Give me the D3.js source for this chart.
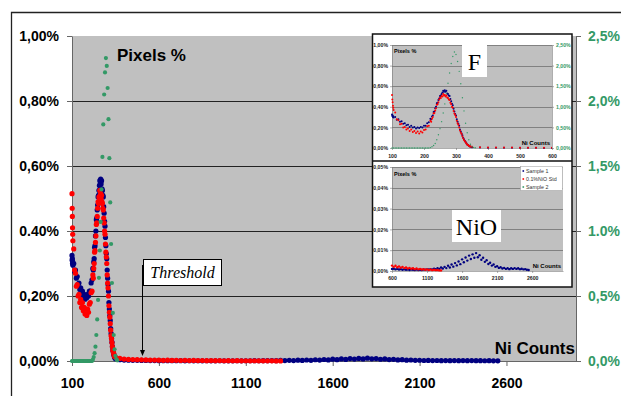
<!DOCTYPE html>
<html>
<head>
<meta charset="utf-8">
<script src="https://cdnjs.cloudflare.com/ajax/libs/d3/7.8.5/d3.min.js"></script>
<style>
  html, body { margin: 0; padding: 0; background: #fff; }
  svg { display: block; }
</style>
</head>
<body>
<svg id="chart" width="621" height="396"></svg>
<script>
// ─── Data (Ni counts vs pixel %) ─────────────────────────────────────

// peak region, Sample 1 (blue) and 0.1%NiO Std (red), left axis %
const peakCounts = [
  100, 101, 102, 103, 104, 105, 110, 115, 120, 125, 130, 135, 140, 145, 150,
  155, 160, 165, 170, 175, 180, 185, 190, 195, 200, 205, 210, 215, 220,
  222.5, 225, 227.5, 230, 232.5, 235, 237.5, 240, 242.5, 245,
  247.5, 250, 252.5, 255, 257.5, 260, 262.5, 265, 267.5, 270,
  272.5, 275, 277.5, 280, 282.5, 285, 287.5, 290, 292.5, 295,
  297.5, 300, 302.5, 305, 307.5, 310, 312.5, 315, 317.5, 320,
  322.5, 325, 327.5, 330, 332.5, 335, 337.5, 340, 342.5, 345
];
const sample1Peak = [
  0.325, 0.31, 0.315, 0.30, 0.305, 0.295, 0.30, 0.275, 0.28, 0.255, 0.26, 0.235, 0.24, 0.22, 0.225,
  0.205, 0.215, 0.20, 0.205, 0.19, 0.20, 0.195, 0.205, 0.20, 0.215, 0.215, 0.24, 0.25, 0.285,
  0.28, 0.305, 0.315, 0.35, 0.355, 0.385, 0.40, 0.435, 0.44, 0.465,
  0.48, 0.505, 0.51, 0.525, 0.54, 0.555, 0.545, 0.56, 0.545, 0.555,
  0.53, 0.525, 0.51, 0.505, 0.475, 0.455, 0.43, 0.415, 0.38, 0.355,
  0.33, 0.315, 0.28, 0.255, 0.235, 0.215, 0.18, 0.16, 0.14, 0.125,
  0.10, 0.085, 0.07, 0.058, 0.045, 0.034, 0.028, 0.021, 0.016, 0.011
];
const stdPeak = [
  0.515, 0.47, 0.445, 0.41, 0.39, 0.37, 0.345, 0.28, 0.27, 0.23, 0.235, 0.20, 0.205, 0.18, 0.19,
  0.165, 0.18, 0.155, 0.165, 0.145, 0.16, 0.14, 0.16, 0.15, 0.175, 0.18, 0.21, 0.215, 0.265,
  0.255, 0.285, 0.30, 0.335, 0.34, 0.365, 0.385, 0.42, 0.425, 0.445,
  0.47, 0.49, 0.485, 0.505, 0.50, 0.525, 0.51, 0.515, 0.50, 0.51,
  0.49, 0.485, 0.47, 0.465, 0.44, 0.425, 0.40, 0.39, 0.36, 0.335,
  0.32, 0.30, 0.265, 0.24, 0.225, 0.20, 0.17, 0.15, 0.135, 0.115,
  0.095, 0.078, 0.068, 0.056, 0.044, 0.033, 0.029, 0.023, 0.018, 0.014
];

// Sample 2 (green), secondary axis %
const sample2Counts = [
  100, 105, 110, 115, 120, 125, 130, 135, 140, 145, 150, 155, 160, 165, 170,
  175, 180, 185, 190, 195, 200, 205, 210, 215, 220, 225, 230, 235, 240, 245,
  250, 255, 260, 265, 270, 275, 280, 285, 290, 295, 300, 305, 310, 315, 320,
  325, 330, 335, 340, 345, 350, 355, 360
];
const sample2Values = [
  0, 0, 0, 0, 0, 0, 0, 0, 0, 0, 0, 0, 0, 0, 0,
  0, 0, 0, 0, 0, 0, 0, 0, 0, 0.01, 0.03, 0.06, 0.11, 0.20, 0.32,
  0.47, 0.64, 0.85, 1.07, 1.32, 1.57, 1.82, 2.05, 2.22, 2.33, 2.27, 2.10, 1.86, 1.56, 1.22,
  0.90, 0.60, 0.37, 0.20, 0.09, 0.04, 0.015, 0.005
];

// long tail, left axis %
const tailCounts = [
  350, 375, 400, 425, 450, 475, 500, 525, 550, 575,
  600, 625, 650, 675, 700, 725, 750, 775, 800, 825,
  850, 875, 900, 925, 950, 975, 1000, 1025, 1050, 1075,
  1100, 1125, 1150, 1175, 1200, 1225, 1250, 1275, 1300, 1325,
  1350, 1375, 1400, 1425, 1450, 1475, 1500, 1525, 1550, 1575,
  1600, 1625, 1650, 1675, 1700, 1725, 1750, 1775, 1800, 1825,
  1850, 1875, 1900, 1925, 1950, 1975, 2000, 2025, 2050, 2075,
  2100, 2125, 2150, 2175, 2200, 2225, 2250, 2275, 2300, 2325,
  2350, 2375, 2400, 2425, 2450, 2475, 2500, 2525, 2550
];
const sample1Tail = [
  0.007, 0.004, 0.003, 0.0025, 0.002, 0.002, 0.0018, 0.0015, 0.0014, 0.0012,
  0.0010, 0.0011, 0.0008, 0.0010, 0.0007, 0.0009, 0.0006, 0.0008, 0.0006, 0.0007,
  0.0005, 0.0007, 0.0006, 0.0005, 0.0007, 0.0005, 0.0006, 0.0005, 0.0007, 0.0006,
  0.0008, 0.0007, 0.0009, 0.0008, 0.0011, 0.0009, 0.0014, 0.0010, 0.0017, 0.0012,
  0.0020, 0.0014, 0.0025, 0.0017, 0.0031, 0.0021, 0.0038, 0.0027, 0.0046, 0.0033,
  0.0056, 0.0042, 0.0065, 0.0050, 0.0074, 0.0058, 0.0080, 0.0064, 0.0086, 0.0066,
  0.0076, 0.0054, 0.0064, 0.0044, 0.0052, 0.0034, 0.0040, 0.0026, 0.0031, 0.0020,
  0.0023, 0.0015, 0.0018, 0.0012, 0.0015, 0.0010, 0.0013, 0.0009, 0.0013, 0.0010,
  0.0014, 0.0010, 0.0013, 0.0009, 0.0011, 0.0008, 0.0009, 0.0006, 0.0005
];
const stdTail = [
  0.012, 0.008, 0.006, 0.005, 0.0045, 0.004, 0.0035, 0.0032, 0.003, 0.0028,
  0.0026, 0.0020, 0.0025, 0.0018, 0.0022, 0.0016, 0.0020, 0.0014, 0.0017, 0.0012,
  0.0015, 0.0011, 0.0013, 0.0009, 0.0012, 0.0008, 0.0010, 0.0007, 0.0009, 0.0006,
  0.0008, 0.0005, 0.0007, 0.0004, 0.0006, 0.0004, 0.0005, 0.0003, 0.0003
];

// ─── Tick labels ─────────────────────────────────────────────────────

const mainXTicks = [100, 600, 1100, 1600, 2100, 2600];
const mainYTicks = [0, 0.2, 0.4, 0.6, 0.8, 1.0];
const mainYLabels = ["0,00%", "0,20%", "0.40%", "0,60%", "0,80%", "1,00%"];
const mainY2Ticks = [0, 0.5, 1.0, 1.5, 2.0, 2.5];
const mainY2Labels = ["0,0%", "0,5%", "1.0%", "1,5%", "2,0%", "2,5%"];

const fXTicks = [100, 200, 300, 400, 500, 600];
const fYLabels = ["0,00%", "0,20%", "0,40%", "0,60%", "0,80%", "1,00%"];
const fY2Labels = ["0,00%", "0,50%", "1,00%", "1,50%", "2,00%", "2,50%"];

const nioXTicks = [600, 1100, 1600, 2100, 2600];
const nioYTicks = [0, 0.01, 0.02, 0.03, 0.04, 0.05];
const nioYLabels = ["0,00%", "0,01%", "0,02%", "0,03%", "0,04%", "0,05%"];

const legendNames = ["Sample 1", "0.1%NiO Std", "Sample 2"];

// ─── Style ───────────────────────────────────────────────────────────

const FONT = "'Liberation Sans', Arial, Helvetica, sans-serif";
const SERIF = "'Liberation Serif', 'Times New Roman', serif";
const BLUE = "#000080";
const RED = "#ff0000";
const GREEN = "#339966";
const PLOT_BG = "#c0c0c0";

// ─── Series ──────────────────────────────────────────────────────────

const sample1 = peakCounts.map((c, i) => ({ c, v: sample1Peak[i] }))
  .concat(tailCounts.map((c, i) => ({ c, v: sample1Tail[i] })));
const std = peakCounts.map((c, i) => ({ c, v: stdPeak[i] }))
  .concat(stdTail.map((v, i) => ({ c: tailCounts[i], v })));
const sample2 = sample2Counts.map((c, i) => ({ c, v: sample2Values[i] }));

const series = [
  { name: legendNames[0], color: BLUE, points: sample1, secondary: false },
  { name: legendNames[1], color: RED, points: std, secondary: false },
  { name: legendNames[2], color: GREEN, points: sample2, secondary: true },
];

const svg = d3.select("#chart");

// ─── Panel drawing ───────────────────────────────────────────────────

function drawPanel(parent, p) {
  const x = d3.scaleLinear().domain(p.xDomain).range([p.left, p.right]);
  const y = d3.scaleLinear().domain(p.yDomain).range([p.bottom, p.top]);
  const y2 = p.y2Domain ? d3.scaleLinear().domain(p.y2Domain).range([p.bottom, p.top]) : y;

  const g = parent.append("g").attr("class", `panel-${p.id}`);

  g.append("rect")
    .attr("x", p.left).attr("y", p.top)
    .attr("width", p.right - p.left).attr("height", p.bottom - p.top)
    .attr("fill", PLOT_BG);

  g.append("g")
    .selectAll("line")
    .data(p.grid)
    .join("line")
    .attr("x1", p.left).attr("x2", p.right)
    .attr("y1", (d) => Math.round(y(d)) + 0.5)
    .attr("y2", (d) => Math.round(y(d)) + 0.5)
    .attr("stroke", p.gridColor)
    .attr("stroke-width", p.gridWidth);

  const styleAxis = (ax, color) => {
    ax.select(".domain").attr("stroke", p.axisColor).attr("stroke-width", p.axisWidth);
    ax.selectAll(".tick line").attr("stroke", p.axisColor).attr("stroke-width", p.axisWidth);
    ax.selectAll(".tick text")
      .attr("font-family", FONT)
      .attr("font-size", p.font)
      .attr("font-weight", p.weight)
      .attr("fill", color);
  };

  const xAxis = g.append("g")
    .attr("transform", `translate(0,${p.bottom})`)
    .call(d3.axisBottom(x).tickValues(p.xTicks).tickFormat(d3.format("d"))
      .tickSize(p.tick).tickSizeOuter(0).tickPadding(p.xPad));
  styleAxis(xAxis, p.labelColor);

  const yAxis = g.append("g")
    .attr("transform", `translate(${p.left},0)`)
    .call(d3.axisLeft(y).tickValues(p.yTicks).tickFormat((d, i) => p.yLabels[i])
      .tickSize(p.tick).tickSizeOuter(0).tickPadding(p.yPad));
  styleAxis(yAxis, p.labelColor);

  if (p.y2Domain) {
    const y2Axis = g.append("g")
      .attr("transform", `translate(${p.right},0)`)
      .call(d3.axisRight(y2).tickValues(p.y2Ticks).tickFormat((d, i) => p.y2Labels[i])
        .tickSize(p.tick).tickSizeOuter(0).tickPadding(p.y2Pad));
    styleAxis(y2Axis, GREEN);
  }

  // Clipped marker layer
  const clipId = `clip-${p.id}`;
  g.append("clipPath").attr("id", clipId)
    .append("rect")
    .attr("x", p.left - 3).attr("y", p.top)
    .attr("width", p.right - p.left + 3).attr("height", p.bottom - p.top + 3);

  const dots = g.append("g").attr("clip-path", `url(#${clipId})`);
  series.forEach((s) => {
    const ys = s.secondary ? y2 : y;
    dots.append("g")
      .selectAll("circle")
      .data(s.points.filter((d) => d.c >= p.xDomain[0] && d.c <= p.xDomain[1]))
      .join("circle")
      .attr("cx", (d) => x(d.c))
      .attr("cy", (d) => ys(d.v))
      .attr("r", s.secondary ? p.r2 : p.r)
      .attr("fill", s.color);
  });

  return { x, y, y2 };
}

// ─── Outer frame ─────────────────────────────────────────────────────

svg.append("path")
  .attr("d", "M11.5,396 V12.5 H621")
  .attr("fill", "none")
  .attr("stroke", "#222")
  .attr("stroke-width", 1.3);

// ─── Main chart ──────────────────────────────────────────────────────

const main = drawPanel(svg, {
  id: "main", left: 72, right: 576, top: 36, bottom: 361,
  xDomain: [100, 3000], yDomain: [0, 1], y2Domain: [0, 2.5],
  xTicks: mainXTicks, yTicks: mainYTicks, yLabels: mainYLabels,
  y2Ticks: mainY2Ticks, y2Labels: mainY2Labels,
  grid: [0.2, 0.4, 0.6, 0.8], gridColor: "#222", gridWidth: 1,
  axisColor: "#666", axisWidth: 1, labelColor: "#000",
  font: 14, weight: "bold", tick: 5, xPad: 12, yPad: 8, y2Pad: 7,
  r: 2.6, r2: 2.1,
});

svg.append("text")
  .attr("x", 117).attr("y", 61)
  .attr("font-family", FONT).attr("font-size", 17).attr("font-weight", "bold")
  .text("Pixels %");

svg.append("text")
  .attr("x", 575).attr("y", 354)
  .attr("text-anchor", "end")
  .attr("font-family", FONT).attr("font-size", 17).attr("font-weight", "bold")
  .text("Ni Counts");

// ─── Threshold marker ────────────────────────────────────────────────

const thresholdX = Math.round(main.x(500)) + 0.5;
svg.append("line")
  .attr("x1", thresholdX).attr("x2", thresholdX)
  .attr("y1", 265).attr("y2", 351)
  .attr("stroke", "#000").attr("stroke-width", 1);
svg.append("path")
  .attr("d", `M${thresholdX - 2.5},350 L${thresholdX + 2.5},350 L${thresholdX},356 Z`)
  .attr("fill", "#000");

svg.append("rect")
  .attr("x", 143.5).attr("y", 259.5).attr("width", 78).attr("height", 26)
  .attr("fill", "#fff").attr("stroke", "#000").attr("stroke-width", 1);
svg.append("text")
  .attr("x", 182.5).attr("y", 277.5)
  .attr("text-anchor", "middle")
  .attr("font-family", SERIF).attr("font-size", 16).attr("font-style", "italic")
  .text("Threshold");

// ─── Inset frame ─────────────────────────────────────────────────────

svg.append("rect")
  .attr("x", 372.5).attr("y", 34).attr("width", 199.5).attr("height", 253)
  .attr("fill", "#fff").attr("stroke", "#111").attr("stroke-width", 1.5);
svg.append("line")
  .attr("x1", 372.5).attr("x2", 572).attr("y1", 161).attr("y2", 161)
  .attr("stroke", "#111").attr("stroke-width", 1.5);

// ─── Inset F ─────────────────────────────────────────────────────────

drawPanel(svg, {
  id: "f", left: 392, right: 552, top: 45, bottom: 148,
  xDomain: [100, 600], yDomain: [0, 1], y2Domain: [0, 2.5],
  xTicks: fXTicks, yTicks: mainYTicks, yLabels: fYLabels,
  y2Ticks: mainY2Ticks, y2Labels: fY2Labels,
  grid: [0.2, 0.4, 0.6, 0.8, 1.0], gridColor: "#555", gridWidth: 0.6,
  axisColor: "#777", axisWidth: 0.6, labelColor: "#222",
  font: 5.2, weight: "bold", tick: 2, xPad: 4, yPad: 2, y2Pad: 2,
  r: 1.0, r2: 0.7,
});

svg.append("text")
  .attr("x", 394).attr("y", 53)
  .attr("font-family", FONT).attr("font-size", 5.5).attr("font-weight", "bold")
  .text("Pixels %");
svg.append("text")
  .attr("x", 550).attr("y", 145)
  .attr("text-anchor", "end")
  .attr("font-family", FONT).attr("font-size", 6).attr("font-weight", "bold")
  .text("Ni Counts");

svg.append("rect")
  .attr("x", 462).attr("y", 45).attr("width", 25).attr("height", 32)
  .attr("fill", "#fff");
svg.append("text")
  .attr("x", 474.5).attr("y", 70)
  .attr("text-anchor", "middle")
  .attr("font-family", SERIF).attr("font-size", 24)
  .text("F");

// ─── Inset NiO ───────────────────────────────────────────────────────

drawPanel(svg, {
  id: "nio", left: 392, right: 563, top: 167, bottom: 271,
  xDomain: [600, 3040], yDomain: [0, 0.05],
  xTicks: nioXTicks, yTicks: nioYTicks, yLabels: nioYLabels,
  grid: [0.01, 0.02, 0.03, 0.04, 0.05], gridColor: "#555", gridWidth: 0.6,
  axisColor: "#777", axisWidth: 0.6, labelColor: "#222",
  font: 5.2, weight: "bold", tick: 2, xPad: 3, yPad: 2,
  r: 1.2, r2: 0.7,
});

svg.append("text")
  .attr("x", 394).attr("y", 176)
  .attr("font-family", FONT).attr("font-size", 5.5).attr("font-weight", "bold")
  .text("Pixels %");
svg.append("text")
  .attr("x", 561).attr("y", 268)
  .attr("text-anchor", "end")
  .attr("font-family", FONT).attr("font-size", 6).attr("font-weight", "bold")
  .text("Ni Counts");

svg.append("rect")
  .attr("x", 452).attr("y", 210).attr("width", 49).attr("height", 32)
  .attr("fill", "#fff");
svg.append("text")
  .attr("x", 476.5).attr("y", 234.5)
  .attr("text-anchor", "middle")
  .attr("font-family", SERIF).attr("font-size", 24)
  .text("NiO");

// ─── Legend ──────────────────────────────────────────────────────────

const legend = svg.append("g").attr("class", "legend");
legend.append("rect")
  .attr("x", 520.5).attr("y", 166.5).attr("width", 42).attr("height", 24)
  .attr("fill", "#fff").attr("stroke", "#999").attr("stroke-width", 0.5);
series.forEach((s, i) => {
  const ly = 171 + i * 8;
  legend.append("rect")
    .attr("x", 522.5).attr("y", ly - 0.8).attr("width", 1.6).attr("height", 1.6)
    .attr("fill", s.color);
  legend.append("text")
    .attr("x", 526).attr("y", ly + 1.8)
    .attr("font-family", FONT).attr("font-size", 5.3)
    .attr("fill", "#333")
    .text(s.name);
});
</script>
</body>
</html>
